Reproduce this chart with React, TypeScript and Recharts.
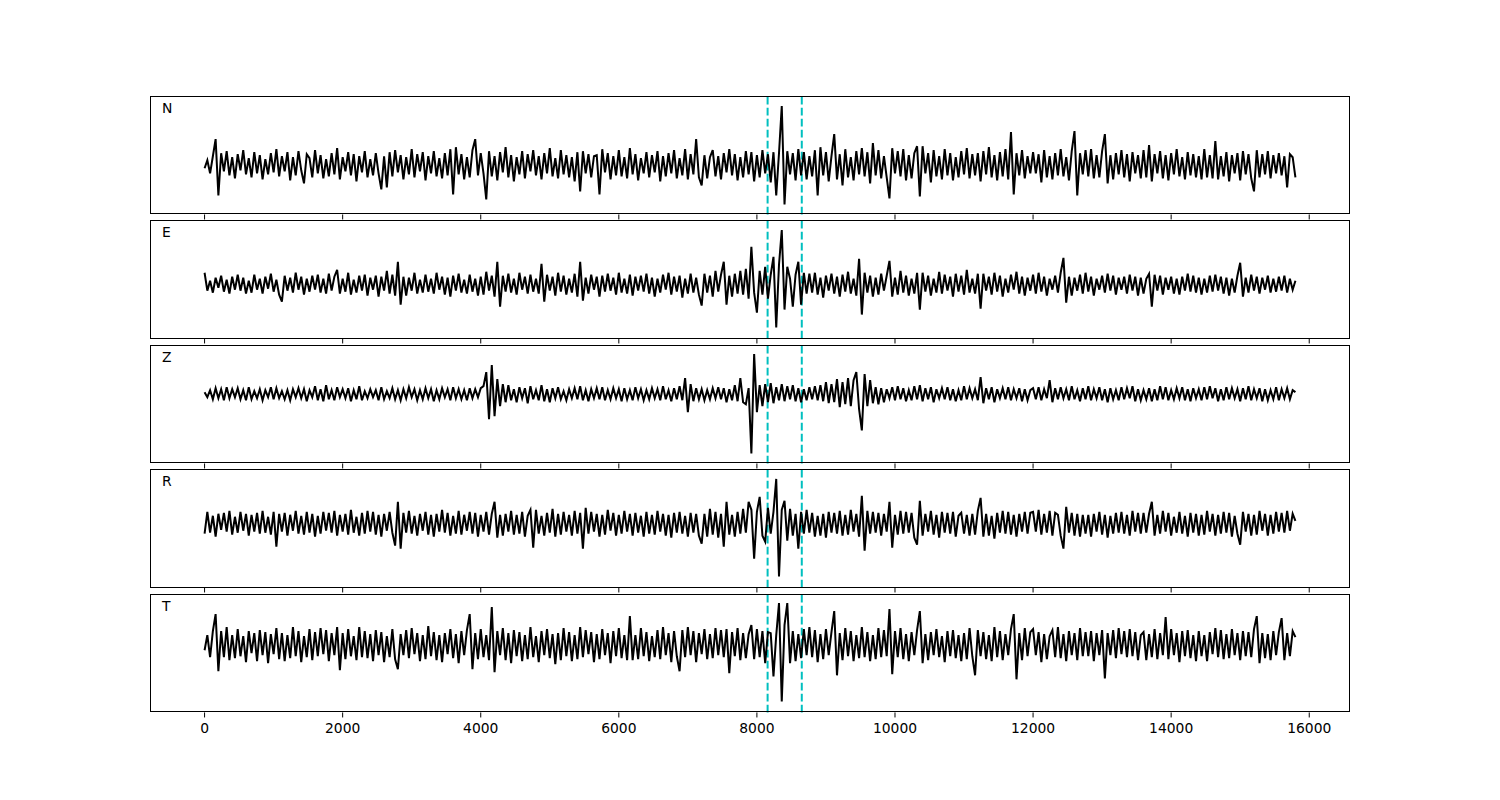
import { LineChart, Line, XAxis, YAxis, ReferenceLine } from "recharts";

// sample spacing of the traces (x units per sample)
const sampleStep = 40;

// component traces, amplitude (px offset from baseline, up = +)
const nTrace = [
  -3, 5, -8, 9, 26, -30, 12, -6, 14, -10, 8, -13, 11, -5, 15, -9, 7, -12, 13, -8,
  10, -14, 6, -9, 12, -7, 16, -11, 9, -6, 13, -15, 8, -10, 14, -5, -18, 11, 7, -12,
  15, -8, 10, -13, 6, -11, 12, -9, 17, -14, 8, -6, 13, -10, 11, -16, 9, -7, 14, -12,
  6, -10, 12, -8, -24, 9, -22, 13, -11, 15, -7, 10, -14, 8, -9, 16, -12, 11, -6, 13,
  -15, 9, -8, 14, -11, 7, -13, 12, -10, 16, -29, 18, -9, 11, -14, 8, -12, 15, 26, -10,
  12, -8, -34, 14, -11, 9, -15, 13, -7, 18, -12, 10, -16, 8, -9, 14, -13, 11, -6, 15,
  -10, 9, -14, 12, -8, 17, -11, 7, -13, 15, -9, 10, -12, 8, -16, 13, -26, 14, -8, 11,
  -12, 9, 10, -29, 16, -7, 12, -14, 9, -10, 15, -11, 8, -13, 17, -9, 11, -15, 7, -8,
  13, -12, 10, -7, 14, -16, 9, -11, 12, -8, 15, -13, 7, -10, 16, -14, 11, -9, 26, -12,
  -20, 10, -13, 8, 15, -11, 9, -14, 12, -7, 16, -10, 11, -15, 8, -12, 14, -9, 13, -16,
  10, -12, 15, -8, 11, -17, 13, -30, 12, 59, -39, 14, -9, 12, -15, 16, -10, 13, -14, 9,
  -11, 15, -30, 18, -10, 13, -16, 9, 31, -14, 11, -20, 16, -12, 8, -15, 14, -9, 17, -11,
  13, -18, 22, -10, 15, -13, 9, -12, -33, 17, -8, 14, -11, 16, -15, 10, -13, 12, 19, -31,
  19, -8, 12, -17, 15, -11, 9, -14, 16, -10, 12, -15, 8, -12, 14, -9, 17, -13, 11, -10,
  12, -16, 14, -9, 18, -12, 10, -15, 13, -11, 16, -14, 33, -29, 12, -10, 15, -13, 9, -8,
  13, -8, 11, -17, 15, -12, 9, -14, 12, -10, 16, -11, 8, -15, 14, 34, -30, 12, -9, 15,
  -11, 16, -13, 10, -12, 14, 31, -18, 10, -14, 12, -9, 15, -12, 11, -16, 13, -8, 10, -13,
  15, -12, 20, -16, 11, -8, 14, -13, 10, -15, 12, -9, 16, -11, 8, -14, 13, -10, 11, -12,
  9, -14, 16, -12, 10, -13, 24, -14, 9, -11, 13, -16, 10, -8, 12, -15, 14, -9, 11, -13,
  -26, 15, -12, 11, -9, 14, -13, 10, -8, 12, -10, 9, -22, 11, 8, -12,
];

const eTrace = [
  12, -6, 4, -8, 7, -3, 9, -7, 5, -9, 8, -5, 10, -6, 7, -9, 4, -8, 10, -5,
  6, -9, 8, -4, 11, -7, 5, -10, -17, 9, -6, 7, -8, 12, -5, 8, -10, 6, -7, 9,
  -5, 10, -8, 6, -9, 11, -6, 8, 15, -9, 6, -7, 12, -10, 5, -8, 9, -6, 10, -11,
  7, -5, 9, -12, 8, -6, 14, -9, 10, -11, 23, -20, 8, -11, 7, -6, 12, -9, 5, -8,
  10, -7, 6, -9, 12, -5, 8, -10, 7, -12, 9, -6, 11, -8, 5, -9, 10, -7, 6, -11,
  8, -10, 13, -6, 9, -12, 23, -22, 9, -7, 11, -8, 6, -10, 12, -5, 8, -9, 10, -7,
  6, -9, 21, -17, 10, -6, 8, -11, 12, -7, 9, -10, 6, -8, 11, -12, 23, -16, 7, -9,
  10, -5, 8, -12, 9, -7, 11, -6, 7, -10, 12, -8, 6, -9, 10, -11, 8, -6, 9, -7,
  11, -9, 7, -12, 6, -8, 10, -5, 12, -10, 8, -7, 9, -13, 6, -9, 11, -8, 7, -10,
  -21, 11, -8, 9, -12, 14, -7, 10, 23, -20, 9, -12, 11, -9, 14, -10, 16, -14, 38, -8,
  -28, 14, -10, 18, -14, 10, 28, -43, 20, 55, -25, 18, 6, -22, 10, 23, -20, 12, -9, 11,
  -8, 12, -10, 7, -13, 9, -6, 11, -9, 8, -12, 10, -7, 13, -9, 6, -11, 26, -30, 12,
  -8, 9, -12, 7, -10, 11, -6, 9, 24, -12, 7, -10, 14, -8, 9, -11, 6, -9, 12, -25,
  12, -7, 9, -11, 6, -8, 13, -9, 10, -6, 8, -12, 11, -7, 9, -10, 15, -8, 6, -9,
  11, -24, 11, -6, 8, -10, 12, -7, 9, -12, 6, -8, 10, -5, 13, -9, 8, -11, 7, -6,
  10, -9, 12, -7, 8, -11, 6, -5, 9, -8, 12, 27, -18, 8, -11, 7, -6, 10, -9, 12,
  -7, 8, -11, 6, -5, 9, -8, 11, -6, 9, -10, 7, -5, 8, -9, 10, -6, 8, -11, 7,
  -9, 6, 11, -22, 10, -6, 9, -10, 7, -5, 8, -9, 6, -10, 8, -6, 11, -7, 9, -8,
  7, -10, 6, -8, 9, -7, 10, -6, 8, -9, 7, -11, 6, -8, 9, 22, -12, 7, -8, 10,
  -6, 8, -9, 7, -5, 9, -8, 6, -7, 8, -6, 9, -8, 6, -5, 4,
];

const zTrace = [
  2, -3, 4, -5, 6, -4, 5, -6, 7, -4, 5, -3, 6, -5, 4, -6, 7, -5, 3, -4,
  5, -6, 4, -3, 7, -5, 6, -4, 3, -5, 4, -6, 5, -3, 6, -4, 5, -7, 4, -3,
  8, -6, 5, -7, 9, -5, 4, -6, 7, -3, 5, -4, 6, -7, 4, -5, 8, -6, 3, -4,
  5, -3, 4, -6, 7, -5, 3, -4, 6, -5, 4, -6, 5, -4, 7, -3, 5, -6, 4, -5,
  6, -4, 5, -7, 4, -5, 6, -3, 5, -6, 7, -4, 5, -5, 4, -6, 6, -4, 5, -3,
  6, 8, 22, -25, 29, -22, 15, -12, 10, -8, 9, -6, 5, -8, 7, -4, 6, -9, 8, -5,
  4, -6, 9, -7, 5, -8, 6, -4, 7, -5, 3, -6, 5, -4, 6, -5, 8, -6, 4, -7,
  5, -4, 6, -5, 7, -6, 4, -5, 6, -4, 5, -7, 6, -5, 4, -6, 7, -4, 5, -6,
  4, -5, 6, -4, 5, -6, 8, -5, 4, -7, 6, -5, 8, -6, 16, -18, 10, -7, 6, -5,
  5, -6, 4, -5, 6, -4, 7, -5, 6, -8, 5, -6, 9, -7, 16, -8, -10, 6, -59, 40,
  -18, 9, -12, 10, -8, 11, -9, 7, -6, 10, -7, 8, -5, 9, -7, 6, -8, 5, -6, 7,
  -5, 8, -6, 9, -7, 12, -9, 10, -8, 15, -13, 12, -10, 16, -12, 14, 22, -15, -36, 20,
  -12, 14, -9, 7, -10, 6, -8, 5, -4, 7, -6, 8, -5, 6, -7, 4, -6, 8, -5, 9,
  -7, 6, -5, 7, -8, 5, -4, 6, -5, 7, -6, 5, -7, 4, -6, 8, -5, 6, -4, 5,
  -6, 17, -9, 6, -5, 7, -8, 5, -4, 6, -5, 7, -6, 5, -4, 6, -7, 5, -6, 4,
  6, -5, 7, -6, 5, -4, 14, -8, 6, -5, 7, -4, 5, -6, 8, -5, 4, -7, 6, -5,
  8, -6, 5, -4, 7, -6, 5, -8, 6, -5, 4, -6, 7, -5, 6, -4, 8, -7, 5, -6,
  4, -5, 6, -7, 5, -6, 8, -5, 7, -6, 4, -5, 6, -4, 7, -6, 5, -7, 6, -4,
  5, -6, 7, -5, 8, -4, 6, -7, 5, -6, 7, -5, 6, -4, 5, -7, 6, -5, 8, -6,
  5, -4, 6, -7, 5, -6, 4, -5, 7, -6, 5, -4, 6, -5, 4, 2,
];

const rTrace = [
  -10, 12, -9, 8, -13, 10, -6, 11, -8, 13, -11, 7, -9, 12, -7, 10, -12, 9, -8, 11,
  -10, 13, -9, 7, -11, 12, -23, 10, -8, 11, -12, 9, -7, 13, -10, 8, -11, 12, -9, 10,
  -13, 8, -10, 12, -7, 11, -9, 13, -12, 9, -8, 10, -11, 14, -9, 7, -12, 11, -10, 13,
  -8, 12, -11, 9, -13, 10, -7, 12, -9, -22, 22, -25, 11, -9, 13, -10, 8, -12, 10, -7,
  12, -11, 9, -13, 10, -8, 14, -9, 11, -12, 8, -10, 13, -11, 9, -7, 12, -10, 11, -13,
  9, -8, 12, -11, 10, 22, -14, 9, -12, 10, -8, 13, -11, 9, -10, 12, -13, 8, 14, -24,
  14, -10, 8, -12, 11, -9, 15, -13, 10, -11, 12, -8, 9, -12, 13, -10, 11, -25, 16, -10,
  12, -8, 10, -13, 9, -11, 14, -7, 11, -12, 9, -10, 13, -8, 10, -12, 11, -9, 8, -13,
  12, -10, 9, -11, 13, -8, 10, -12, 9, -14, 11, -9, 12, -10, 8, -13, 11, -9, 10, -12,
  -20, 10, -13, 15, -11, 12, -14, 10, -23, 22, -11, 9, -13, 12, -10, 15, -9, 22, 14, -35,
  12, 27, -12, -18, 16, -10, 12, 45, -53, 14, 23, -17, 15, -12, 10, -25, 12, -10, 14, -9,
  11, -13, 8, -12, 10, -14, 12, -9, 11, -10, 13, -12, 9, -11, 14, -8, 10, -13, 28, -27,
  13, -10, 12, -9, 11, -12, 10, -8, 22, -24, 9, -11, 13, -10, 12, -9, 11, -14, -21, 23,
  -12, 10, -8, 13, -11, 9, -14, 12, -9, 11, -10, 12, -13, 8, 11, -10, 9, -12, 10, -11,
  13, 26, -13, 10, -12, 8, -15, 11, -9, 13, -10, 12, -11, 9, -13, 10, -8, 12, -10, 11,
  12, -8, 14, -11, 10, -9, 13, -12, 11, 9, -12, -25, 17, -9, 11, -12, 10, -13, 9, -10,
  9, -13, 10, -8, 12, -11, 9, -14, 8, -10, 11, -9, 12, -10, 9, -12, 13, -8, 11, -10,
  11, -9, 10, 22, -12, 9, -10, 13, -8, 11, -12, 7, -9, 12, -10, 8, -13, 11, -9, 10,
  -12, 9, -11, 13, -8, 10, -12, 9, -10, 12, -9, 11, -13, 8, -10, -21, 12, -8, 10, -12,
  9, -11, 13, -7, 10, -12, 9, -10, 12, -8, 11, -9, 13, -7, 10, 3,
];

const tTrace = [
  -5, 10, -12, 14, 31, -26, 14, -12, 18, -15, 10, -13, 16, -11, 9, -17, 14, -8, 12, -16,
  15, -10, 13, -18, 11, -9, 17, -14, 12, -16, 10, -13, 18, -11, 14, -17, 9, -12, 16, -15,
  13, -11, 17, -9, 15, -16, 12, -10, 18, -25, 12, -14, 16, -11, 9, -15, 18, -12, 14, -13,
  11, -16, 15, -10, 13, -17, 9, -12, 16, -14, -24, 11, -10, 15, -13, 17, -9, 12, -16, 10,
  -14, 19, -11, 13, -15, 10, -17, 12, -9, 16, -13, 11, -18, 14, -10, 15, 31, -24, 12, -14,
  16, -12, 10, -15, 38, -27, 14, -10, 17, -15, 12, -18, 15, -11, 13, -16, 10, -14, 18, -12,
  9, -17, 14, -10, 16, -13, 11, -19, 12, -15, 17, -11, 13, -16, 10, -14, 18, -12, 15, -9,
  13, -17, 11, -14, 16, -10, 12, -18, 14, -11, 17, -13, 10, -15, 29, -15, 10, -14, 17, -11,
  13, -16, 9, -12, 15, -14, 18, -10, 12, -17, 14, -11, -26, 15, -12, 18, -10, 14, -17, 12,
  -9, 16, -14, 11, -13, 17, -10, 15, -12, 16, -28, 13, -11, 17, -15, 12, -13, 11, 20, -14,
  16, -12, 14, -18, 13, 12, -31, 10, 42, -56, 20, 42, -18, 14, -16, 11, -13, 16, -10, 18,
  -12, 15, -17, 11, -14, 16, -10, 13, 34, -30, 12, -15, 17, -11, 14, -16, 10, -13, 18, -12,
  13, -16, 10, -14, 17, -12, 15, -11, 36, -29, 14, -12, 17, -14, 11, -16, 13, -10, 15, 34,
  -18, 11, -15, 13, -10, 16, -12, 9, -17, 14, -11, 15, -13, 10, -16, 12, -14, 17, -11, -30,
  15, -11, 13, -14, 10, -16, 18, -12, 14, -15, 11, -10, 16, 31, -34, 12, -15, 17, -11, 13,
  16, -10, 13, -17, 11, -14, 9, 15, -12, 18, -13, 11, -16, 14, -10, 12, -15, 17, -11, 13,
  -11, 14, -16, 12, -10, 15, -33, 12, -10, 15, -13, 17, -9, 14, -12, 16, -11, 13, -15, 10,
  13, -15, 11, -12, 16, -14, 12, -10, 28, -14, 16, -10, 12, -17, 14, -11, 15, -13, 10, -16,
  14, -11, 10, -16, 13, -9, 17, -12, 15, -14, 11, -13, 16, -10, 12, -15, 14, -11, 13, -12,
  16, 29, -18, 12, -13, 11, -15, 14, -10, 13, 27, -15, 12, -11, 14, 8,
];

const channels = ["N", "E", "Z", "R", "T"];
const traces = [nTrace, eTrace, zTrace, rTrace, tTrace];
// y ranges so each trace sits where it does in its panel
const yRanges = [
  [-49, 69],
  [-54, 65],
  [-69, 49],
  [-64, 55],
  [-67, 51],
];
const xTicks = [0, 2000, 4000, 6000, 8000, 10000, 12000, 14000, 16000];
const picks = [8155, 8650];

const data = nTrace.map((_, i) => {
  const row: Record<string, number> = { t: i * sampleStep };
  channels.forEach((c, k) => {
    row[c] = traces[k][i];
  });
  return row;
});

const LEFT = 150;
const WIDTH = 1200;
const TOP = 96;
const PANEL_H = 118.46;
const GAP = 5.92;

export default function App() {
  return (
    <div
      style={{
        position: "absolute",
        left: 0,
        top: 0,
        width: 1500,
        height: 800,
        background: "#fff",
        fontFamily: "DejaVu Sans",
      }}
    >
      {channels.map((c, k) => {
        const top = TOP + k * (PANEL_H + GAP);
        const last = k === channels.length - 1;
        const axisH = last ? 30 : 6;
        return (
          <div key={c}>
            <div style={{ position: "absolute", left: LEFT, top }}>
              <LineChart
                width={WIDTH}
                height={PANEL_H + axisH}
                data={data}
                margin={{ top: 0, right: 0, bottom: 0, left: 0 }}
              >
                <XAxis
                  dataKey="t"
                  type="number"
                  domain={[-790, 16590]}
                  ticks={xTicks}
                  height={axisH}
                  axisLine={false}
                  tickSize={5}
                  tickMargin={6}
                  tickLine={{ stroke: "#000", strokeWidth: 1 }}
                  tick={
                    last
                      ? { fill: "#000", fontSize: 13.9, fontFamily: "DejaVu Sans" }
                      : () => <g />
                  }
                  interval={0}
                />
                <YAxis hide domain={yRanges[k]} allowDataOverflow />
                {picks.map((p) => (
                  <ReferenceLine
                    key={p}
                    x={p}
                    stroke="#00bfbf"
                    strokeWidth={2}
                    strokeDasharray="7.7 3.3"
                  />
                ))}
                <Line
                  type="linear"
                  dataKey={c}
                  stroke="#000"
                  strokeWidth={2}
                  dot={false}
                  isAnimationActive={false}
                />
              </LineChart>
            </div>
            <div
              style={{
                position: "absolute",
                left: LEFT,
                top,
                width: WIDTH,
                height: PANEL_H,
                border: "1px solid #000",
                boxSizing: "border-box",
                pointerEvents: "none",
              }}
            />
          </div>
        );
      })}
      <svg
        width={1500}
        height={800}
        style={{ position: "absolute", left: 0, top: 0, pointerEvents: "none" }}
      >
        {channels.map((c, k) => (
          <text
            key={c}
            x={162}
            y={TOP + k * (PANEL_H + GAP) + 17}
            fontSize={13.9}
            fontFamily="DejaVu Sans"
            fill="#000"
          >
            {c}
          </text>
        ))}
      </svg>
    </div>
  );
}
